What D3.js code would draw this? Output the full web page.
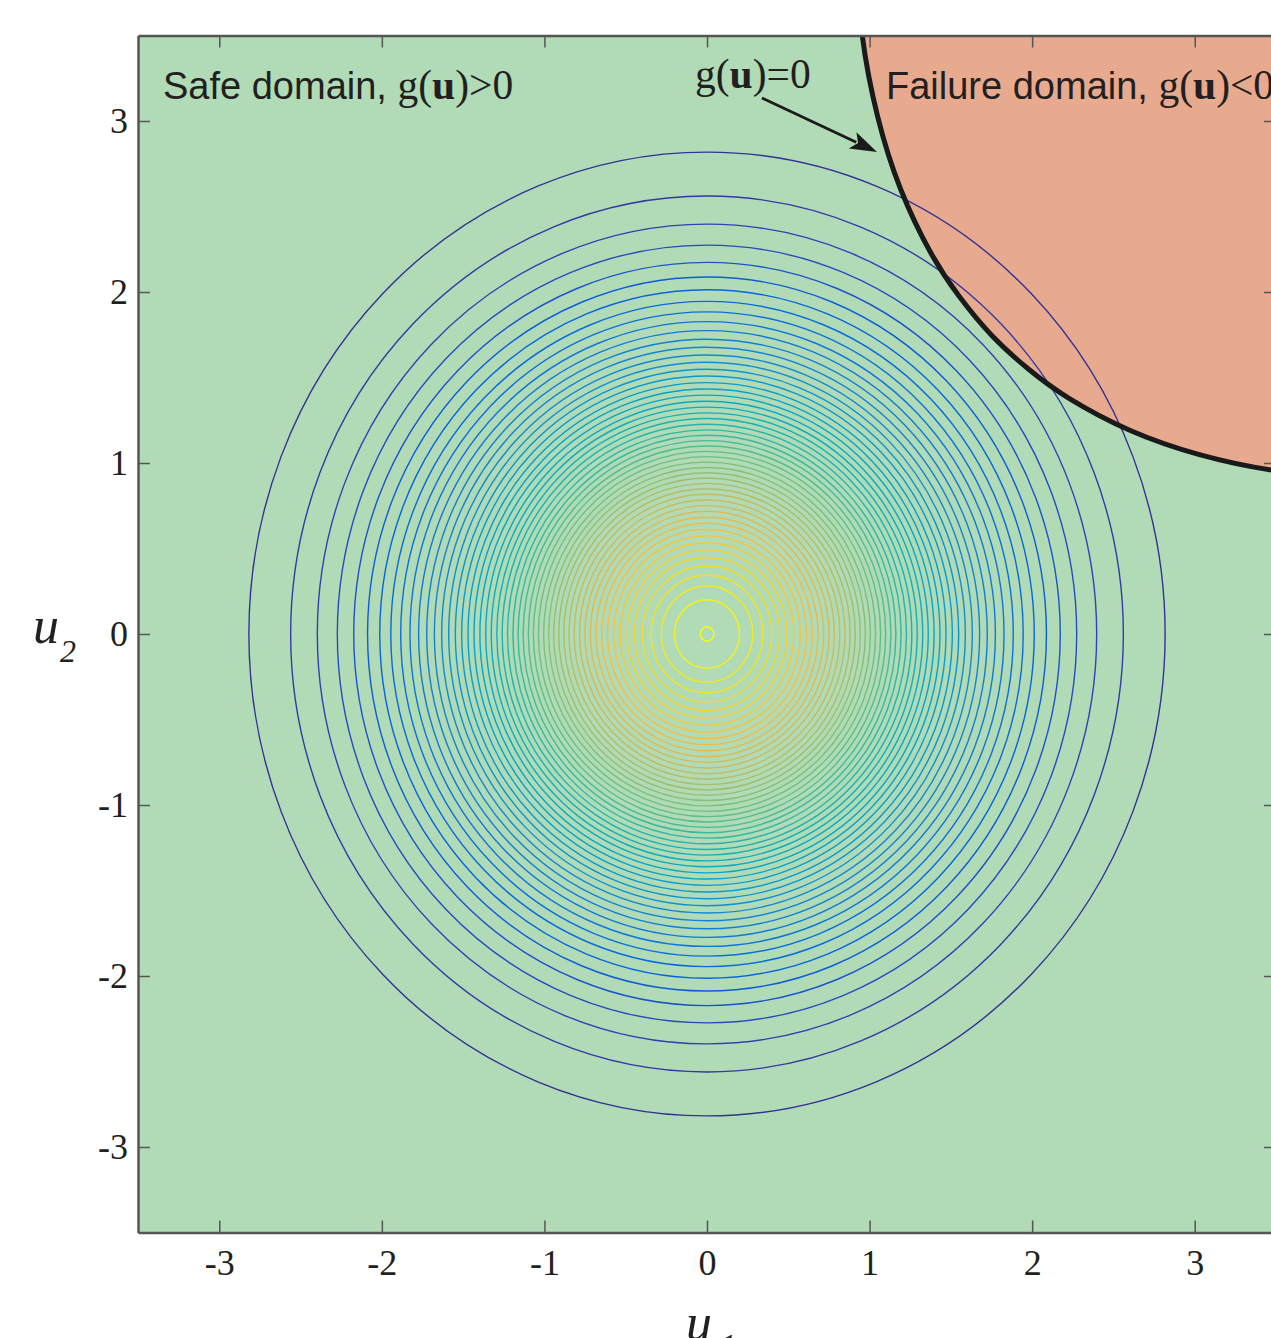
<!DOCTYPE html>
<html>
<head>
<meta charset="utf-8">
<script src="https://cdn.jsdelivr.net/npm/d3@7"></script>
<style>
body { margin: 0; background: #fff; }
</style>
</head>
<body>
<div id="chart"></div>
<script>
// contour radii of the density, outermost first
const contourRadii = [2.818, 2.561, 2.397, 2.274, 2.173, 2.088, 2.013, 1.945, 1.884, 1.827,
    1.774, 1.724, 1.677, 1.632, 1.589, 1.548, 1.509, 1.470, 1.433, 1.397,
    1.361, 1.327, 1.293, 1.260, 1.227, 1.194, 1.162, 1.131, 1.099, 1.068,
    1.037, 1.005, 0.974, 0.943, 0.912, 0.881, 0.849, 0.817, 0.784, 0.751,
    0.718, 0.683, 0.648, 0.612, 0.574, 0.534, 0.492, 0.447, 0.398, 0.344,
    0.281, 0.200, 0.042];

// limit state g(u)=0, from top-left to bottom-right
const limitU1 = [0.909, 0.955, 1.049, 1.190, 1.378, 1.551, 1.749, 1.975, 2.227, 2.604, 3.029, 3.501, 4.020];
const limitU2 = [4.020, 3.501, 3.029, 2.604, 2.227, 1.975, 1.749, 1.551, 1.378, 1.190, 1.049, 0.955, 0.909];

const ticks = [-3, -2, -1, 0, 1, 2, 3];
const arrowFrom = [0.338, 3.135];
const arrowTo = [1.046, 2.819];

// parula colormap stops
const parulaStops = ["#352a87", "#3243ba", "#0363e1", "#0d75dc", "#1485d4", "#0998d1", "#06a7c6",
    "#15b1b4", "#38b99e", "#65be86", "#92bf73", "#b7bd64", "#d9ba56", "#f8bb44", "#fcce2e",
    "#f5e41d", "#f9fb0e"];

const width = 1271;
const height = 1338;

const svg = d3.select("#chart")
    .append("svg")
    .attr("width", width)
    .attr("height", height);

const x = d3.scaleLinear().domain([-3.5, 3.5]).range([138, 1276]);
const y = d3.scaleLinear().domain([-3.5, 3.5]).range([1232.5, 35.5]);

const parula = d3.scaleLinear()
    .domain(parulaStops.map((c, i) => Math.min(1, i * 4 / 63)))
    .range(parulaStops)
    .interpolate(d3.interpolateRgb);

const levelT = d3.scaleLinear().domain([0, contourRadii.length - 1]).range([0.019, 1]);

svg.append("clipPath").attr("id", "plotclip")
    .append("rect")
    .attr("x", x(-3.5)).attr("y", y(3.5))
    .attr("width", x(3.5) - x(-3.5)).attr("height", y(-3.5) - y(3.5));

const plot = svg.append("g").attr("clip-path", "url(#plotclip)");

// safe domain
plot.append("rect")
    .attr("x", x(-3.5)).attr("y", y(3.5))
    .attr("width", x(3.5) - x(-3.5)).attr("height", y(-3.5) - y(3.5))
    .attr("fill", "#b0dbb6");

const limitPts = limitU1.map((u, i) => [u, limitU2[i]]);
const limitLine = d3.line()
    .x(d => x(d[0]))
    .y(d => y(d[1]))
    .curve(d3.curveNatural);

// failure domain
plot.append("path")
    .attr("d", limitLine(limitPts) +
        `L${x(4.5)},${y(0.9)}L${x(4.5)},${y(4.5)}L${x(0.9)},${y(4.5)}Z`)
    .attr("fill", "#e8aa8e");

plot.selectAll("ellipse.contour")
    .data(contourRadii)
    .join("ellipse")
    .attr("class", "contour")
    .attr("cx", x(0))
    .attr("cy", y(0))
    .attr("rx", r => x(r) - x(0))
    .attr("ry", r => y(0) - y(r))
    .attr("fill", "none")
    .attr("stroke", (r, i) => parula(levelT(i)))
    .attr("stroke-width", 1.4);

plot.append("path")
    .attr("d", limitLine(limitPts))
    .attr("fill", "none")
    .attr("stroke", "#1a1a1a")
    .attr("stroke-width", 5);

// arrow to the limit state
const ax0 = x(arrowFrom[0]), ay0 = y(arrowFrom[1]);
const ax1 = x(arrowTo[0]), ay1 = y(arrowTo[1]);
const ang = Math.atan2(ay1 - ay0, ax1 - ax0);
const headLen = 27, headW = 9;
const bx = ax1 - headLen * Math.cos(ang), by = ay1 - headLen * Math.sin(ang);
svg.append("line")
    .attr("x1", ax0).attr("y1", ay0)
    .attr("x2", bx + 4 * Math.cos(ang)).attr("y2", by + 4 * Math.sin(ang))
    .attr("stroke", "#1a1a1a")
    .attr("stroke-width", 2.8);
svg.append("path")
    .attr("d", `M${ax1},${ay1}L${bx - headW * Math.sin(ang)},${by + headW * Math.cos(ang)}` +
        `L${bx + 6 * Math.cos(ang)},${by + 6 * Math.sin(ang)}` +
        `L${bx + headW * Math.sin(ang)},${by - headW * Math.cos(ang)}Z`)
    .attr("fill", "#1a1a1a");

// annotations
const serif = "'Liberation Serif', 'Times New Roman', serif";
function mixedLabel(px, py, sansPart, rel) {
    const t = svg.append("text")
        .attr("x", px).attr("y", py)
        .attr("fill", "#231f20");
    if (sansPart) {
        t.append("tspan")
            .attr("font-family", "'Liberation Sans', Arial, sans-serif")
            .attr("font-size", 38)
            .text(sansPart);
    }
    t.append("tspan").attr("font-family", serif).attr("font-size", 41.5).text("g(");
    t.append("tspan").attr("font-family", serif).attr("font-size", 41.5)
        .attr("font-weight", "bold").text("u");
    t.append("tspan").attr("font-family", serif).attr("font-size", 41.5).text(")" + rel);
}
mixedLabel(163, 99, "Safe domain, ", ">0");
mixedLabel(886, 99, "Failure domain, ", "<0");
mixedLabel(695, 88, null, "=0");

// axes
const fmt = d => String(d);

function styleAxis(g) {
    g.select(".domain").attr("stroke", "#555").attr("stroke-width", 2.5);
    g.selectAll(".tick line").attr("stroke", "#555").attr("stroke-width", 1.5);
    g.selectAll(".tick text")
        .attr("font-family", serif)
        .attr("font-size", 36)
        .attr("fill", "#231f20");
}

svg.append("g")
    .attr("transform", `translate(0, ${y(3.5)})`)
    .call(d3.axisTop(x).tickValues(ticks).tickSize(-12).tickSizeOuter(0).tickFormat(""))
    .call(styleAxis);

svg.append("g")
    .attr("transform", `translate(${x(3.5)}, 0)`)
    .call(d3.axisRight(y).tickValues(ticks).tickSize(-12).tickSizeOuter(0).tickFormat(""))
    .call(styleAxis);

svg.append("g")
    .attr("transform", `translate(0, ${y(-3.5)})`)
    .call(d3.axisBottom(x).tickValues(ticks).tickSize(-12).tickSizeOuter(0).tickPadding(17).tickFormat(fmt))
    .call(styleAxis);

svg.append("g")
    .attr("transform", `translate(${x(-3.5)}, 0)`)
    .call(d3.axisLeft(y).tickValues(ticks).tickSize(-12).tickSizeOuter(0).tickPadding(10).tickFormat(fmt))
    .call(styleAxis);

// axis titles
svg.append("text").attr("x", 33).attr("y", 643)
    .attr("font-family", serif).attr("font-style", "italic").attr("font-size", 52)
    .attr("fill", "#231f20").text("u");
svg.append("text").attr("x", 60).attr("y", 662)
    .attr("font-family", serif).attr("font-style", "italic").attr("font-size", 32)
    .attr("fill", "#231f20").text("2");

svg.append("text").attr("x", 686).attr("y", 1340)
    .attr("font-family", serif).attr("font-style", "italic").attr("font-size", 52)
    .attr("fill", "#231f20").text("u");
svg.append("text").attr("x", 720).attr("y", 1356)
    .attr("font-family", serif).attr("font-style", "italic").attr("font-size", 32)
    .attr("fill", "#231f20").text("1");
</script>
</body>
</html>
